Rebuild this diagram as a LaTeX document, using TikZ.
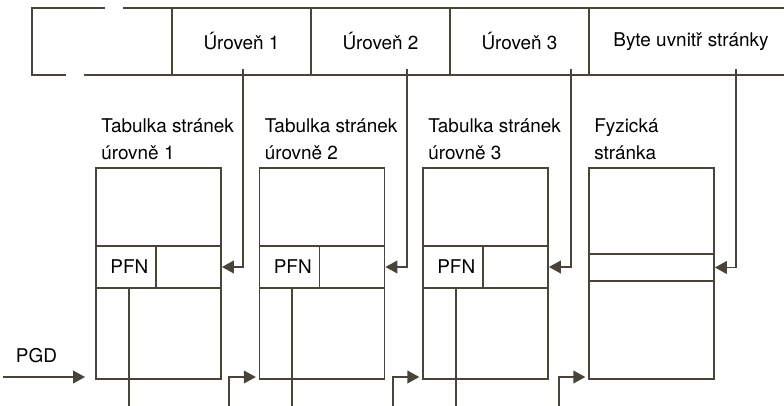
\documentclass[tikz,border=0pt]{standalone}
\usepackage{fontspec}
\setmainfont{TeX Gyre Heros}
\usetikzlibrary{arrows.meta,positioning}
\definecolor{linegray}{RGB}{72,68,58}

\tikzset{
    wire/.style={draw=linegray, line width=1.4pt},
    box/.style={draw=linegray, line width=1.4pt, rectangle, inner sep=0pt},
    tablebox/.style={box, minimum width=93.75pt, minimum height=158.25pt},
    rowbox/.style={box, minimum width=93.75pt, minimum height=31.5pt},
    caption/.style={anchor=south west, align=left, inner sep=0pt},
}

\begin{document}
\begin{tikzpicture}[x=0.75pt, y=-0.75pt, node distance=122.6pt,
    >={Triangle[length=9pt,width=9.5pt]},
    font=\fontsize{14.2}{20.25}\selectfont]
    \useasboundingbox (0,0) rectangle (784,406);

    % address bar
    \draw [wire] (105,8) -- (32,8) -- (32,75) -- (66,75);
    \draw [wire] (123,8) -- (784,8);
    \draw [wire] (84,75) -- (784,75);
    \foreach \x in {172,311,450,589}
        \draw [wire] (\x,8) -- (\x,75);
    \node (lvl1) at (241.5,41.5) {Úroveň 1};
    \node (lvl2) at (380.5,41.5) {Úroveň 2};
    \node (lvl3) at (519.5,41.5) {Úroveň 3};
    \node (offs) at (691,41.5) {Byte uvnitř stránky};

    % tables
    \node (tab1) [tablebox] at (158.5,273.5) {};
    \node (tab2) [tablebox, right of=tab1] {};
    \node (tab3) [tablebox, right of=tab2] {};
    \node (page) [tablebox, right of=tab3, xshift=1.9pt] {};

    \node (row1) [rowbox, yshift=4.875pt] at (tab1) {};
    \node (row2) [rowbox, yshift=4.875pt] at (tab2) {};
    \node (row3) [rowbox, yshift=4.875pt] at (tab3) {};
    \node (prow) [box, minimum width=93.75pt, minimum height=20.25pt, yshift=4.5pt] at (page) {};

    \node (pfn1) [box, minimum width=45pt, minimum height=31.5pt, anchor=west] at (row1.west) {\hspace{5pt}PFN};
    \node (pfn2) [box, minimum width=45pt, minimum height=31.5pt, anchor=west] at (row2.west) {\hspace{5pt}PFN};
    \node (pfn3) [box, minimum width=45pt, minimum height=31.5pt, anchor=west] at (row3.west) {\hspace{5pt}PFN};

    \node (cap1) [caption] at ([xshift=4.5pt, yshift=5.25pt]tab1.north west) {Tabulka stránek\\úrovně 1};
    \node (cap2) [caption] at ([xshift=4.5pt, yshift=5.25pt]tab2.north west) {Tabulka stránek\\úrovně 2};
    \node (cap3) [caption] at ([xshift=4.5pt, yshift=5.25pt]tab3.north west) {Tabulka stránek\\úrovně 3};
    \node (cap4) [caption] at ([xshift=4.5pt, yshift=5.25pt]page.north west) {Fyzická\\stránka};

    % index fields into the tables
    \coordinate (tap1) at (243,69);
    \coordinate (tap2) at (407,69);
    \coordinate (tap3) at (571,69);
    \coordinate (tap4) at (736,69);
    \draw [wire, ->] (tap1) |- (row1.east);
    \draw [wire, ->] (tap2) |- (row2.east);
    \draw [wire, ->] (tap3) |- (row3.east);
    \draw [wire, ->] (tap4) |- (prow.east);

    % base pointers
    \coordinate (pgd) at (3,377);
    \node (pgdlbl) at (36.5,356) {PGD};
    \draw [wire, ->, shorten >=7.5pt] (pgd) -- (tab1.west |- pgd);
    \coordinate (in2) at (229,406);
    \coordinate (in3) at (393,406);
    \coordinate (in4) at (559,406);
    \draw [wire, ->, shorten >=2pt] (in2) |- (tab2.west |- pgd);
    \draw [wire, ->, shorten >=2pt] (in3) |- (tab3.west |- pgd);
    \draw [wire, ->, shorten >=2pt] (in4) |- (page.west |- pgd);
    \foreach \i in {1,2,3}
        \draw [wire] ([xshift=2pt]pfn\i.south) -- ([xshift=2pt]pfn\i.south |- in2);
\end{tikzpicture}
\end{document}
